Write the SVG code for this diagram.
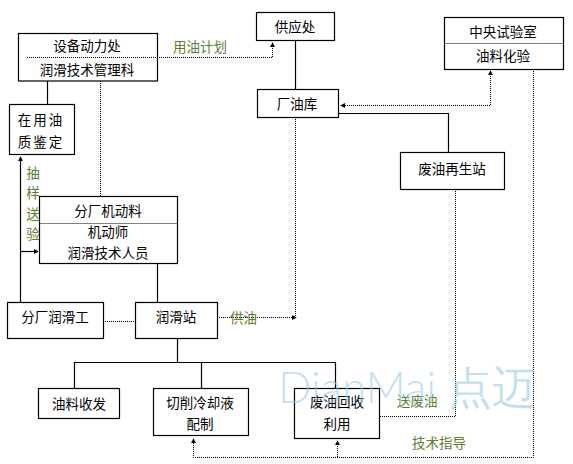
<svg xmlns="http://www.w3.org/2000/svg" width="573" height="464" viewBox="0 0 573 464">
<defs>
<style>
.box{fill:#fff;stroke:#000;stroke-width:1.2}
.t{font-family:"Noto Sans CJK SC","Liberation Sans",sans-serif;font-size:13.5px;fill:#000;text-anchor:middle;dominant-baseline:central}
.g{font-family:"Noto Sans CJK SC","Liberation Sans",sans-serif;font-size:13.5px;fill:#5d7d2f;dominant-baseline:central}
.s{fill:none;stroke:#000;stroke-width:1.2}
.d{fill:none;stroke:#000;stroke-width:1;stroke-dasharray:1 1}
.div{stroke:#000;stroke-width:1;stroke-dasharray:1 1}
</style>
<marker id="a" viewBox="0 0 6 6" refX="5" refY="3" markerWidth="5" markerHeight="5" orient="auto" markerUnits="userSpaceOnUse">
<path d="M0,0 L6,3 L0,6 z" fill="#000"/>
</marker>
</defs>
<rect width="573" height="464" fill="#fff"/>
<g id="connectors">
<path class="d" d="M157,57.5 H272.5 V43" marker-end="url(#a)"/>
<path class="s" d="M47.5,81 V104"/>
<path class="d" d="M100.5,81 V196"/>
<path class="s" d="M295.5,40 V89"/>
<path class="d" d="M490.5,72 V105.5 H341" marker-end="url(#a)"/>
<path class="d" d="M490.5,105 V71" marker-end="url(#a)"/>
<path class="s" d="M338,113.5 H448.5 V152"/>
<path class="d" d="M295.5,117 V317.5"/>
<path class="d" d="M217,317.5 H296" marker-end="url(#a)"/>
<path class="d" d="M455.5,189 V416.5 H379"/>
<path class="d" d="M533.5,69 V457.5 H193.5 V439" marker-end="url(#a)"/>
<path class="d" d="M337.5,457 V441" marker-end="url(#a)"/>
<path class="s" d="M20.5,302 V157" marker-end="url(#a)"/>
<path class="s" d="M20,251.5 H38" marker-end="url(#a)"/>
<path class="d" d="M103,321.5 H135"/>
<path class="s" d="M157.5,263 V302"/>
<path class="s" d="M177.5,338 V362.5 M74.5,388 V362.5 H335.5 V388 M201.5,362.5 V388"/>
</g>
<g id="n1"><rect class="box" x="18.5" y="33.5" width="139" height="47.5"/><line class="div" x1="27" y1="57.5" x2="157" y2="57.5"/><text class="t" x="87" y="45">设备动力处</text><text class="t" x="87" y="69">润滑技术管理科</text></g>
<text class="g" x="173" y="46">用油计划</text>
<g id="n2"><rect class="box" x="256.5" y="12.5" width="78" height="28"/><text class="t" x="295" y="26">供应处</text></g>
<g id="n3"><rect class="box" x="257.5" y="89.5" width="81" height="28"/><text class="t" x="297" y="103">厂油库</text></g>
<g id="n4"><rect class="box" x="444.5" y="17.5" width="119" height="52"/><line class="div" x1="444.5" y1="43.5" x2="563.5" y2="43.5"/><text class="t" x="503" y="31">中央试验室</text><text class="t" x="503" y="55">油料化验</text></g>
<g id="n5"><rect class="box" x="9.5" y="104.5" width="65" height="50"/><text class="t" x="41" y="119" letter-spacing="2">在用油</text><text class="t" x="41" y="141" letter-spacing="2">质鉴定</text></g>
<g id="n6"><rect class="box" x="400.5" y="152.5" width="104" height="37"/><text class="t" x="452" y="168">废油再生站</text></g>
<g id="n7"><rect class="box" x="39.5" y="196.5" width="138" height="67"/><line class="div" x1="39.5" y1="223.5" x2="177.5" y2="223.5"/><text class="t" x="108" y="210">分厂机动料</text><text class="t" x="108" y="231">机动师</text><text class="t" x="108" y="252">润滑技术人员</text></g>
<g id="labels1"><text class="g" x="33" y="172" text-anchor="middle">抽</text><text class="g" x="33" y="192" text-anchor="middle">样</text><text class="g" x="33" y="213" text-anchor="middle">送</text><text class="g" x="33" y="233" text-anchor="middle">验</text></g>
<g id="n8"><rect class="box" x="7.5" y="302.5" width="96" height="36"/><text class="t" x="55" y="316">分厂润滑工</text></g>
<g id="n9"><rect class="box" x="135.5" y="302.5" width="82" height="36"/><text class="t" x="176" y="316">润滑站</text></g>
<text class="g" x="230" y="317">供油</text>
<g id="n10"><rect class="box" x="38.5" y="388.5" width="81" height="30"/><text class="t" x="79" y="403">油料收发</text></g>
<g id="n11"><rect class="box" x="153.5" y="388.5" width="95" height="47"/><text class="t" x="200" y="402">切削冷却液</text><text class="t" x="200" y="423">配制</text></g>
<g id="n12"><rect class="box" x="294.5" y="388.5" width="85" height="50"/><text class="t" x="337" y="401">废油回收</text><text class="t" x="337" y="423">利用</text></g>
<text class="g" x="397" y="400">送废油</text>
<text class="g" x="412" y="442">技术指导</text>
<text x="278" y="386" font-family="Lato,'Open Sans',sans-serif" font-weight="300" font-size="44" fill="#9ccbe0" fill-opacity="0.6" dominant-baseline="central">DianMai 点迈</text>
</svg>
